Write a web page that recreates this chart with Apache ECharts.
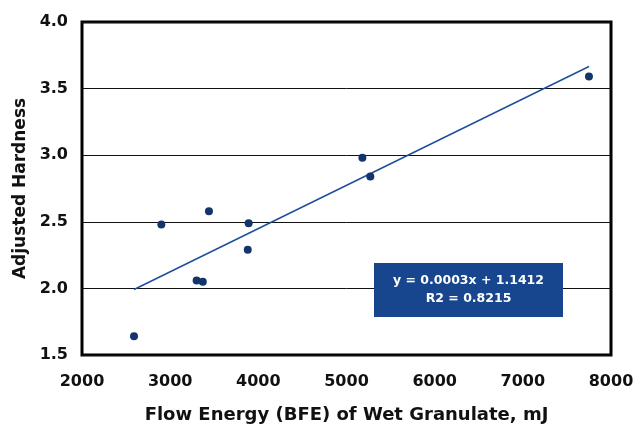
<!DOCTYPE html>
<html>
<head>
<meta charset="utf-8">
<script src="https://cdn.jsdelivr.net/npm/echarts@6/dist/echarts.min.js"></script>
<style>
  html, body { margin: 0; padding: 0; background: #fff; }
  #chart { width: 636px; height: 425px; }
</style>
</head>
<body>
<div id="chart"></div>
<script>
var flowEnergy = [2590, 2900, 3440, 3300, 3370, 3890, 3880, 5180, 5270, 7750];
var hardness = [1.64, 2.48, 2.58, 2.06, 2.05, 2.49, 2.29, 2.98, 2.84, 3.59];
var xTicks = [2000, 3000, 4000, 5000, 6000, 7000, 8000];
var yTicks = [1.5, 2.0, 2.5, 3.0, 3.5, 4.0];
var fitText = ['y = 0.0003x + 1.1412', 'R2 = 0.8215'];

var chart = echarts.init(document.getElementById('chart'));

// least squares trend line through the points
var n = flowEnergy.length, mx = 0, my = 0;
for (var i = 0; i < n; i++) { mx += flowEnergy[i]; my += hardness[i]; }
mx /= n; my /= n;
var sxy = 0, sxx = 0;
for (var i = 0; i < n; i++) {
    sxy += (flowEnergy[i] - mx) * (hardness[i] - my);
    sxx += (flowEnergy[i] - mx) * (flowEnergy[i] - mx);
}
var slope = sxy / sxx, icept = my - slope * mx;
var x0 = Math.min.apply(null, flowEnergy), x1 = Math.max.apply(null, flowEnergy);
var trend = [[x0, icept + slope * x0], [x1, icept + slope * x1]];

var points = flowEnergy.map(function (x, i) { return [x, hardness[i]]; });
var font = 'DejaVu Sans';

var option = {
    backgroundColor: '#ffffff',
    animation: false,
    grid: {
        left: 82, right: 25, top: 22, bottom: 70,
        containLabel: false,
        outerBoundsMode: 'none',
        show: true,
        borderColor: '#000',
        borderWidth: 3,
        backgroundColor: 'transparent'
    },
    xAxis: {
        type: 'value',
        min: xTicks[0],
        max: xTicks[xTicks.length - 1],
        interval: 1000,
        name: 'Flow Energy (BFE) of Wet Granulate, mJ',
        nameLocation: 'middle',
        nameGap: 51,
        nameTextStyle: { fontFamily: font, fontWeight: 'bold', fontSize: 18, color: '#111' },
        axisLine: { show: false },
        axisTick: { show: false },
        splitLine: { show: false },
        axisLabel: {
            margin: 19, fontFamily: font, fontWeight: 'bold', fontSize: 16, color: '#111',
            formatter: function (v) { return String(v); }
        }
    },
    yAxis: {
        type: 'value',
        min: yTicks[0],
        max: yTicks[yTicks.length - 1],
        interval: 0.5,
        name: 'Adjusted Hardness',
        nameLocation: 'middle',
        nameGap: 53,
        nameTextStyle: { fontFamily: font, fontWeight: 'bold', fontSize: 17, color: '#111' },
        axisLine: { show: false },
        axisTick: { show: false },
        splitLine: { lineStyle: { color: '#111', width: 1 } },
        axisLabel: {
            margin: 14, fontFamily: font, fontWeight: 'bold', fontSize: 16, color: '#111',
            formatter: function (v) { return v.toFixed(1); }
        }
    },
    graphic: [{
        type: 'group',
        left: 374,
        top: 263,
        z: 100,
        children: [{
            type: 'rect',
            z: 100,
            shape: { x: 0, y: 0, width: 189, height: 54 },
            style: { fill: '#17468e' }
        }, {
            type: 'text',
            z: 101,
            x: 94.5, y: 27,
            style: {
                text: fitText.join('\n'),
                fill: '#fff',
                font: 'bold 12.5px "DejaVu Sans"',
                lineHeight: 18,
                align: 'center',
                verticalAlign: 'middle'
            }
        }]
    }],
    series: [{
        type: 'line',
        data: trend,
        symbol: 'none',
        lineStyle: { color: '#1f4f98', width: 1.5 },
        z: 2
    }, {
        type: 'scatter',
        data: points,
        symbolSize: 8,
        itemStyle: { color: '#13356b', opacity: 1 },
        z: 3
    }]
};
chart.setOption(option);
</script>
</body>
</html>
